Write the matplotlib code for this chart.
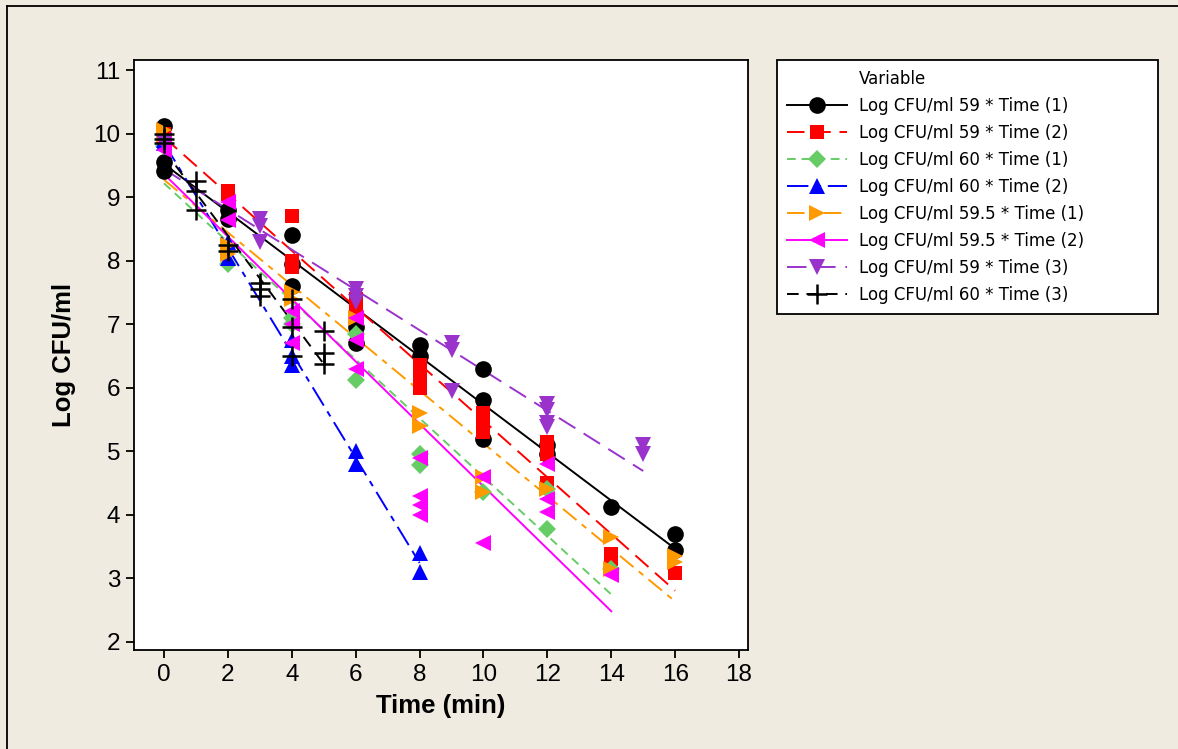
import numpy as np
import matplotlib
matplotlib.use("Agg")
import matplotlib.pyplot as plt
from matplotlib.lines import Line2D

# ---------------- data ----------------
x_59_1 = [0, 0, 0, 2, 2, 4, 4, 4, 6, 6, 8, 8, 10, 10, 10, 12, 12, 14, 16, 16]
y_59_1 = [10.12, 9.55, 9.42, 8.8, 8.65, 8.4, 7.95, 7.6, 6.95, 6.7, 6.67, 6.5,
          6.3, 5.8, 5.2, 5.1, 4.95, 4.12, 3.7, 3.45]

x_59_2 = [0, 0, 2, 2, 4, 4, 4, 6, 6, 8, 8, 8, 10, 10, 10, 12, 12, 12, 14, 14, 16]
y_59_2 = [10.0, 9.9, 9.1, 9.05, 8.7, 8.0, 7.9, 7.4, 7.2, 6.35, 6.2, 6.0,
          5.6, 5.45, 5.3, 5.15, 4.95, 4.5, 3.38, 3.3, 3.08]

x_60_1 = [0, 0, 2, 4, 4, 6, 6, 8, 8, 10, 12, 12, 14]
y_60_1 = [9.85, 9.8, 7.95, 7.1, 7.0, 6.85, 6.12, 4.95, 4.78, 4.35, 4.4, 3.77, 3.15]

x_60_2 = [0, 0, 2, 2, 4, 4, 4, 6, 6, 8, 8]
y_60_2 = [9.9, 9.85, 8.3, 8.05, 6.75, 6.5, 6.35, 5.0, 4.8, 3.4, 3.1]

x_595_1 = [0, 0, 2, 2, 4, 4, 6, 8, 8, 10, 10, 12, 14, 14, 16, 16]
y_595_1 = [10.05, 9.95, 8.25, 8.1, 7.5, 7.4, 7.1, 5.6, 5.4, 4.6, 4.35, 4.4, 3.65, 3.15, 3.35, 3.25]

x_595_2 = [0, 0, 0, 2, 2, 4, 4, 4, 6, 6, 6, 8, 8, 8, 8, 10, 10, 12, 12, 12, 14]
y_595_2 = [9.9, 9.85, 9.75, 8.92, 8.64, 7.2, 7.0, 6.7, 7.1, 6.75, 6.3, 4.9, 4.3, 4.15, 4.0,
           4.6, 3.55, 4.8, 4.25, 4.05, 3.05]

x_59_3 = [0, 3, 3, 3, 6, 6, 6, 9, 9, 9, 12, 12, 12, 12, 15, 15]
y_59_3 = [9.85, 8.65, 8.55, 8.3, 7.55, 7.45, 7.35, 6.7, 6.6, 5.95,
          5.75, 5.65, 5.45, 5.38, 5.1, 4.95]

x_60_3 = [0, 0, 0, 1, 1, 1, 2, 2, 3, 3, 3, 4, 4, 4, 5, 5, 5]
y_60_3 = [10.0, 9.92, 9.85, 9.25, 9.1, 8.8, 8.25, 8.15, 7.65, 7.55, 7.45,
          7.4, 6.95, 6.5, 6.9, 6.55, 6.38]

labels = ["Log CFU/ml 59 * Time (1)", "Log CFU/ml 59 * Time (2)",
          "Log CFU/ml 60 * Time (1)", "Log CFU/ml 60 * Time (2)",
          "Log CFU/ml 59.5 * Time (1)", "Log CFU/ml 59.5 * Time (2)",
          "Log CFU/ml 59 * Time (3)", "Log CFU/ml 60 * Time (3)"]

xticks = [0, 2, 4, 6, 8, 10, 12, 14, 16, 18]
yticks = [2, 3, 4, 5, 6, 7, 8, 9, 10, 11]

# ---------------- styles ----------------
series = [
    (x_59_1, y_59_1, dict(color="black", marker="o", ms=12, ls="-")),
    (x_59_2, y_59_2, dict(color="#FF0000", marker="s", ms=10.5, ls=(0, (9, 4.5)))),
    (x_60_1, y_60_1, dict(color="#66CC66", marker="D", ms=9.5, ls=(0, (4.5, 3)))),
    (x_60_2, y_60_2, dict(color="#0000FF", marker="^", ms=12, ls=(0, (11, 3.5, 3, 3.5)))),
    (x_595_1, y_595_1, dict(color="#FF9900", marker=">", ms=12, ls=(0, (9, 3.5, 3, 3.5)))),
    (x_595_2, y_595_2, dict(color="#FF00FF", marker="<", ms=12, ls="-")),
    (x_59_3, y_59_3, dict(color="#9933CC", marker="v", ms=12, ls=(0, (10, 5)))),
    (x_60_3, y_60_3, dict(color="black", marker="+", ms=14, ls=(0, (6, 4)))),
]

BG = "#EFEBE1"
tick_font = ["Liberation Sans", "DejaVu Sans"]
lab_font = ["Liberation Sans", "DejaVu Sans"]

fig = plt.figure(figsize=(11.78, 7.49), dpi=100, facecolor=BG)
ax = fig.add_axes([134 / 1178, 1 - 650 / 749, (748 - 134) / 1178, (650 - 60) / 749])
ax.set_facecolor("white")

handles = [Line2D([], [], ls="none", marker=None)]
for (xs, ys, st), lab in zip(series, labels):
    xs = np.asarray(xs, float)
    ys = np.asarray(ys, float)
    b, a = np.polyfit(xs, ys, 1)
    xx = np.array([xs.min(), xs.max()])
    ax.plot(xx, a + b * xx, color=st["color"], ls=st["ls"], lw=1.4, zorder=2)
    mew = 1.8 if st["marker"] == "+" else 0
    ax.plot(xs, ys, ls="none", marker=st["marker"], ms=st["ms"], color=st["color"],
            mec=st["color"], mew=mew, zorder=3)
    handles.append(Line2D([], [], color=st["color"], ls=st["ls"], lw=1.4,
                          marker=st["marker"], ms=st["ms"], mew=mew))

ax.set_xlim(-0.94, 18.28)
ax.set_ylim(1.87, 11.16)
ax.set_xticks(xticks)
ax.set_yticks(yticks)
ax.tick_params(direction="out", length=6, width=1.3, labelsize=17.5, pad=4)
for lbl in ax.get_xticklabels() + ax.get_yticklabels():
    lbl.set_family(tick_font)
for sp in ax.spines.values():
    sp.set_linewidth(1.3)

ax.set_xlabel("Time (min)", fontsize=18.5, fontweight="bold", family=lab_font, labelpad=6)
ax.set_ylabel("Log CFU/ml", fontsize=18.5, fontweight="bold", family=lab_font, labelpad=12)

leg = fig.legend(handles, ["Variable"] + labels, loc="upper left",
                 bbox_to_anchor=(777 / 1178, 0.3, (1158 - 777) / 1178, 1 - 60 / 749 - 0.3),
                 bbox_transform=fig.transFigure, mode="expand", borderaxespad=0,
                 numpoints=1, handlelength=3.6, handletextpad=0.7,
                 labelspacing=0.54, borderpad=0.6, fancybox=False, frameon=True,
                 prop={"family": "DejaVu Sans", "size": 12})
leg.get_frame().set_edgecolor("black")
leg.get_frame().set_linewidth(1.3)
leg.get_frame().set_facecolor("white")
leg.get_frame().set_alpha(1)

# figure border (left and top)
fig.add_artist(Line2D([7 / 1178, 7 / 1178], [0, 1 - 6 / 749], color="black", lw=1.3,
                      transform=fig.transFigure))
fig.add_artist(Line2D([7 / 1178, 1], [1 - 6 / 749, 1 - 6 / 749], color="black", lw=1.3,
                      transform=fig.transFigure))

fig.savefig("out.png", dpi=100, facecolor=BG)
